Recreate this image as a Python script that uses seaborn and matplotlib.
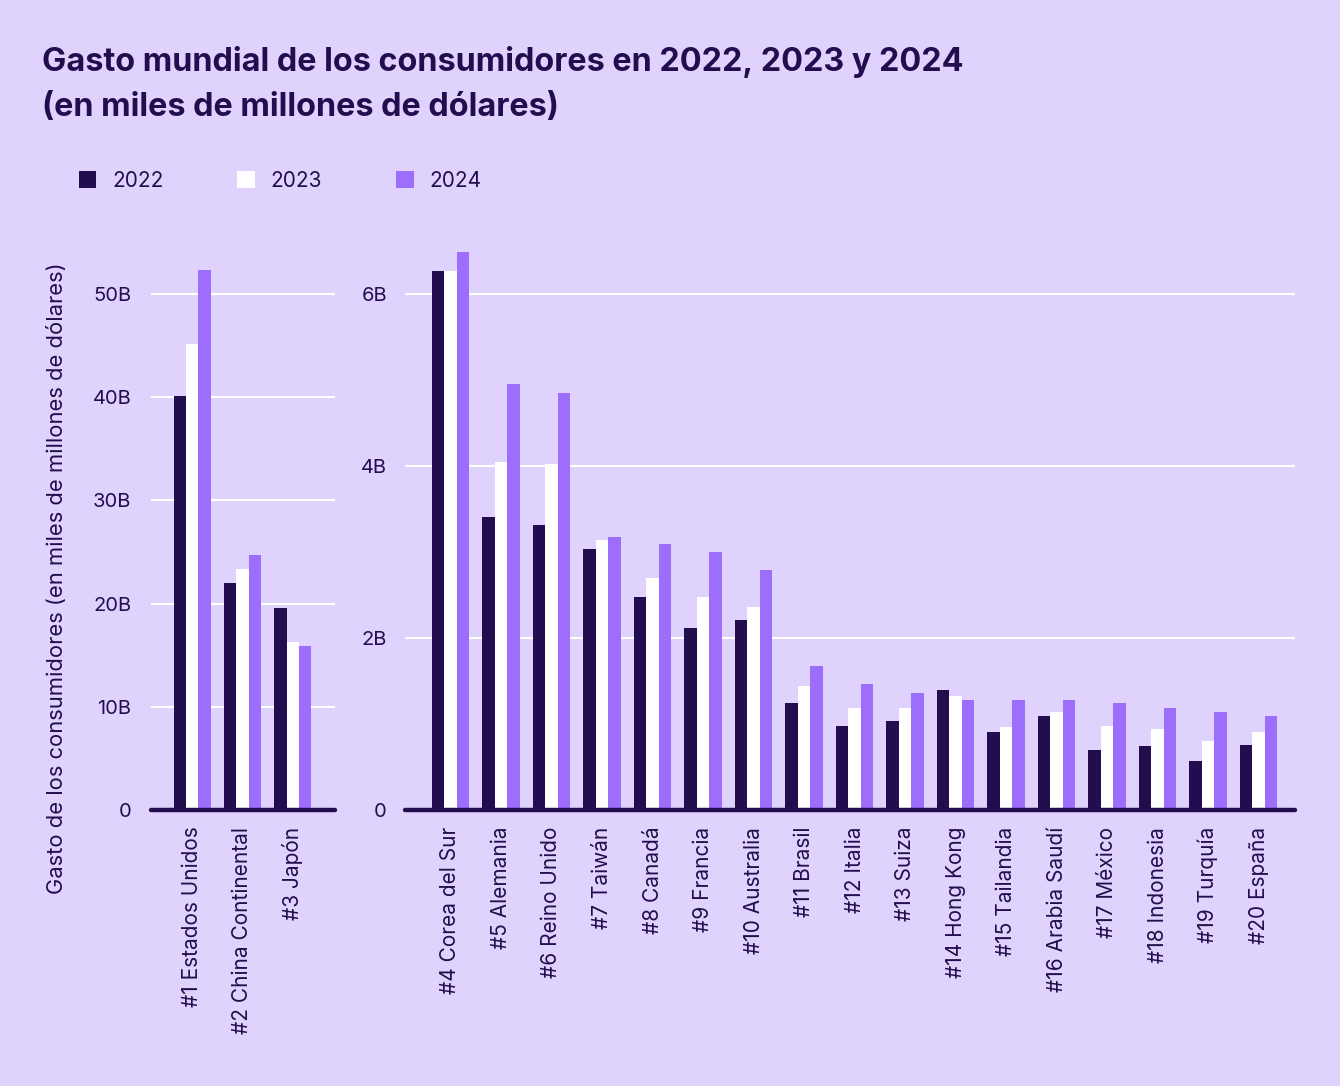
import matplotlib
matplotlib.use("Agg")
import matplotlib.pyplot as plt
import seaborn as sns
import pandas as pd
from matplotlib.patches import Patch

BG = "#DFD3FE"
DARK = "#220E4E"
WHITE = "#FFFFFF"
PURPLE = "#9D6EFC"

years = ["2022", "2023", "2024"]

top_countries = ["#1 Estados Unidos", "#2 China Continental", "#3 Japón"]
top_2022 = [40.1, 22.0, 19.6]
top_2023 = [45.2, 23.4, 16.3]
top_2024 = [52.3, 24.7, 15.9]

rest_countries = ["#4 Corea del Sur", "#5 Alemania", "#6 Reino Unido", "#7 Taiwán",
                  "#8 Canadá", "#9 Francia", "#10 Australia", "#11 Brasil", "#12 Italia",
                  "#13 Suiza", "#14 Hong Kong", "#15 Tailandia", "#16 Arabia Saudí",
                  "#17 México", "#18 Indonesia", "#19 Turquía", "#20 España"]
rest_2022 = [6.27, 3.41, 3.31, 3.03, 2.48, 2.12, 2.21, 1.25, 0.98, 1.03, 1.40, 0.91, 1.09, 0.70, 0.74, 0.57, 0.76]
rest_2023 = [6.27, 4.05, 4.02, 3.14, 2.70, 2.48, 2.36, 1.44, 1.19, 1.19, 1.32, 0.96, 1.14, 0.98, 0.94, 0.80, 0.91]
rest_2024 = [6.49, 4.95, 4.85, 3.17, 3.09, 3.00, 2.79, 1.67, 1.47, 1.36, 1.28, 1.28, 1.28, 1.25, 1.19, 1.14, 1.09]

left_ticks = [0, 10, 20, 30, 40, 50]
left_ticklabels = ["0", "10B", "20B", "30B", "40B", "50B"]
right_ticks = [0, 2, 4, 6]
right_ticklabels = ["0", "2B", "4B", "6B"]


def long_df(countries, a, b, c):
    rows = []
    for yr, vals in zip(years, [a, b, c]):
        for cn, v in zip(countries, vals):
            rows.append({"pais": cn, "anio": yr, "gasto": v})
    return pd.DataFrame(rows)


df_top = long_df(top_countries, top_2022, top_2023, top_2024)
df_rest = long_df(rest_countries, rest_2022, rest_2023, rest_2024)

sns.set_theme(style="white")
plt.rcParams["font.family"] = ["Inter", "DejaVu Sans"]

W, H = 1340, 1086
fig = plt.figure(figsize=(W / 100, H / 100), dpi=100, facecolor=BG)

bottom_px, top_px = 810, 240
ax_b = (H - bottom_px) / H
ax_h = (bottom_px - top_px) / H
ax1 = fig.add_axes([151 / W, ax_b, (335 - 151) / W, ax_h])
ax2 = fig.add_axes([405 / W, ax_b, (1295 - 405) / W, ax_h])

palette = {"2022": DARK, "2023": WHITE, "2024": PURPLE}

for ax, df, ticks, tlabels, ylim, xlim, pad in [
    (ax1, df_top, left_ticks, left_ticklabels, 50 * (810 - 240) / 516, (-0.82, 2.84), 14),
    (ax2, df_rest, right_ticks, right_ticklabels, 6 * (810 - 240) / 516, (-0.9, 16.72), 13),
]:
    ax.set_facecolor(BG)
    sns.barplot(data=df, x="pais", y="gasto", hue="anio", palette=palette,
                width=0.74, gap=0, ax=ax, legend=False, saturation=1,
                linewidth=0, zorder=3)
    ax.set_ylim(0, ylim)
    ax.set_xlim(*xlim)
    ax.set_yticks(ticks)
    ax.set_yticklabels(tlabels)
    ax.grid(axis="y", color="white", linewidth=1.5, zorder=0)
    ax.set_axisbelow(True)
    for s in ["top", "right", "left"]:
        ax.spines[s].set_visible(False)
    ax.spines["bottom"].set_color(DARK)
    ax.spines["bottom"].set_linewidth(3.2)
    ax.spines["bottom"].set_capstyle("round")
    ax.spines["bottom"].set_zorder(5)
    ax.tick_params(axis="y", length=0, pad=pad, labelsize=14.5, labelcolor=DARK)
    ax.tick_params(axis="x", length=0, pad=12, labelsize=15, labelcolor=DARK)
    ax.set_xlabel("")
    ax.set_ylabel("")
    for lbl in ax.get_xticklabels():
        lbl.set_rotation(90)
        lbl.set_ha("center")
        lbl.set_va("top")

fig.text(57 / W, 1 - 578 / H, "Gasto de los consumidores (en miles de millones de dólares)",
         rotation=90, ha="center", va="center", fontsize=15.8, color=DARK)

fig.text(42 / W, 1 - 62 / H, "Gasto mundial de los consumidores en 2022, 2023 y 2024",
         ha="left", va="center", fontsize=23.3, fontweight="bold", color=DARK)
fig.text(42 / W, 1 - 108 / H, "(en miles de millones de dólares)",
         ha="left", va="center", fontsize=23.3, fontweight="bold", color=DARK)

handles = [Patch(facecolor=palette[y], edgecolor="none") for y in years]
fig.legend(handles, years, loc="center left", bbox_to_anchor=(60 / W, 1 - 181 / H),
           ncol=3, frameon=False, fontsize=15, labelcolor=DARK,
           handlelength=0.85, handleheight=0.85, handletextpad=0.75, columnspacing=3.55)

fig.savefig("out.png", dpi=100, facecolor=BG)
